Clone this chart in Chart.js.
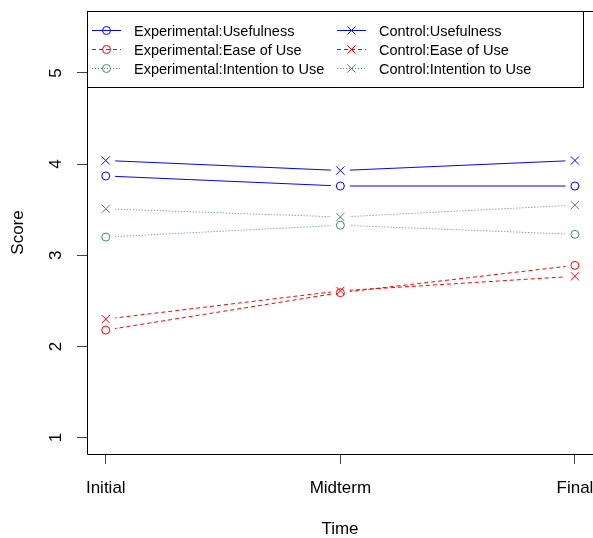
<!DOCTYPE html>
<html>
<head>
<meta charset="utf-8">
<script src="https://cdn.jsdelivr.net/npm/chart.js@4.4.1/dist/chart.umd.min.js"></script>
<style>
  html, body { margin: 0; padding: 0; overflow: hidden; background: #fff; }
  #grafico { display: block; width: 593px; height: 538px; }
</style>
</head>
<body>
<canvas id="grafico" width="593" height="538"></canvas>
<script>
// datos
const tiempos = ["Initial", "Midterm", "Final"];
const posiciones = [1, 2, 3];
const ticks_y = [1, 2, 3, 4, 5];

const exp_usefulness = [3.87, 3.76, 3.76];
const exp_ease = [2.18, 2.59, 2.89];
const exp_intention = [3.20, 3.33, 3.23];
const ctrl_usefulness = [4.04, 3.93, 4.04];
const ctrl_ease = [2.30, 2.61, 2.77];
const ctrl_intention = [3.51, 3.42, 3.55];

const FUENTE = "Arial, 'Liberation Sans', sans-serif";
const AZUL = "#0000FF", ROJO = "#FF0000", VERDE = "#458B74";

function serie(label, valores, color, dash, estilo) {
  return {
    label: label,
    data: valores.map((v, i) => ({ x: posiciones[i], y: v })),
    borderColor: color,
    borderWidth: 1,
    borderDash: dash,
    pointStyle: estilo,
    pointRadius: estilo === "circle" ? 4 : 5.8,
    pointBorderColor: color,
    pointBackgroundColor: "rgba(0,0,0,0)",
    pointBorderWidth: 1,
    fill: false,
    tension: 0,
  };
}

const datasets = [
  serie("Experimental:Usefulness", exp_usefulness, AZUL, [], "circle"),
  serie("Experimental:Ease of Use", exp_ease, ROJO, [4, 3], "circle"),
  serie("Experimental:Intention to Use", exp_intention, VERDE, [1, 2], "circle"),
  serie("Control:Usefulness", ctrl_usefulness, AZUL, [], "crossRot"),
  serie("Control:Ease of Use", ctrl_ease, ROJO, [4, 3], "crossRot"),
  serie("Control:Intention to Use", ctrl_intention, VERDE, [1, 2], "crossRot"),
];

// huecos alrededor de los puntos (tipo "b" de R), marco, etiquetas y leyenda
const plugin_estilo_r = {
  id: "estiloR",
  afterDatasetsDraw: (chart) => {
    const ctx = chart.ctx;
    const area = chart.chartArea;
    ctx.save();
    ctx.setLineDash([]);
    ctx.fillStyle = "#ffffff";
    chart.data.datasets.forEach((ds, i) => {
      chart.getDatasetMeta(i).data.forEach((p) => {
        const pos = p.getProps(["x", "y"], true);
        ctx.beginPath();
        ctx.arc(pos.x, pos.y, 9.5, 0, Math.PI * 2);
        ctx.closePath();
        ctx.fill();
      });
    });
    chart.data.datasets.forEach((ds, i) => {
      chart.getDatasetMeta(i).data.forEach((p) => p.draw(ctx, area));
    });
    ctx.restore();
  },
  afterDraw: (chart) => {
    const ctx = chart.ctx;
    const area = chart.chartArea;
    const x = chart.scales.x;
    const y = chart.scales.y;
    ctx.save();
    // marco (el lado derecho queda fuera de la imagen)
    const l = Math.round(area.left) + 0.5;
    const t = Math.round(area.top) + 0.5;
    const b = Math.round(area.bottom) + 0.5;
    ctx.strokeStyle = "#000";
    ctx.lineWidth = 1;
    ctx.beginPath();
    ctx.moveTo(chart.width, t);
    ctx.lineTo(l, t);
    ctx.lineTo(l, b);
    ctx.lineTo(chart.width, b);
    ctx.stroke();

    // etiquetas de los ejes (las del eje y giradas como en R)
    ctx.fillStyle = "#000";
    ctx.font = "17px " + FUENTE;
    ctx.textAlign = "center";
    ctx.textBaseline = "middle";
    posiciones.forEach((v, i) => {
      ctx.fillText(tiempos[i], x.getPixelForValue(v), area.bottom + 34);
    });
    ticks_y.forEach((v) => {
      ctx.save();
      ctx.translate(56, y.getPixelForValue(v));
      ctx.rotate(-Math.PI / 2);
      ctx.fillText(String(v), 0, 0);
      ctx.restore();
    });

    // leyenda
    const x0 = area.left, y0 = area.top;
    const ancho = 496, alto = 76;
    ctx.fillStyle = "#fff";
    ctx.fillRect(x0, y0, ancho, alto);
    ctx.strokeStyle = "#000";
    ctx.strokeRect(Math.round(x0) + 0.5, Math.round(y0) + 0.5, ancho, alto);
    const columnas = [x0 + 5, x0 + 250];
    ctx.font = "14.5px " + FUENTE;
    ctx.textAlign = "left";
    chart.data.datasets.forEach((ds, i) => {
      const cx = columnas[Math.floor(i / 3)];
      const cy = y0 + 19 + (i % 3) * 19;
      ctx.save();
      ctx.strokeStyle = ds.borderColor;
      ctx.lineWidth = 1;
      ctx.setLineDash(ds.borderDash);
      ctx.beginPath();
      ctx.moveTo(cx, cy + 0.5);
      ctx.lineTo(cx + 29, cy + 0.5);
      ctx.stroke();
      ctx.restore();
      ctx.save();
      ctx.strokeStyle = ds.pointBorderColor;
      ctx.fillStyle = "rgba(0,0,0,0)";
      ctx.lineWidth = 1;
      Chart.helpers.drawPoint(ctx, {
        pointStyle: ds.pointStyle,
        radius: ds.pointRadius,
        rotation: 0,
        borderWidth: 1,
      }, cx + 14.5, cy + 0.5);
      ctx.restore();
      ctx.fillStyle = "#000";
      ctx.textBaseline = "middle";
      ctx.fillText(ds.label, cx + 42, cy + 2);
    });
    ctx.restore();
  },
};

const ctx = document.getElementById("grafico").getContext("2d");
const chart_puntajes = new Chart(ctx, {
  type: "line",
  data: { datasets: datasets },
  options: {
    responsive: false,
    maintainAspectRatio: false,
    animation: false,
    layout: {
      autoPadding: false,
      padding: { left: 0, top: 11, right: 0, bottom: 0 },
    },
    plugins: {
      legend: { display: false },
      tooltip: { enabled: false },
    },
    scales: {
      x: {
        type: "linear",
        min: 0.92,
        max: 3.077,
        afterBuildTicks: (scale) => {
          scale.ticks = posiciones.map((v) => ({ value: v }));
        },
        afterFit: (scale) => {
          scale.height = 84;
        },
        grid: {
          drawOnChartArea: false,
          drawTicks: true,
          tickLength: 10,
          color: "#444",
        },
        border: { display: false },
        ticks: {
          display: false,
        },
        title: {
          display: true,
          text: "Time",
          color: "#000",
          font: { family: FUENTE, size: 17 },
          padding: { top: 0, bottom: -2 },
        },
      },
      y: {
        type: "linear",
        min: 0.82,
        max: 5.68,
        afterBuildTicks: (scale) => {
          scale.ticks = ticks_y.map((v) => ({ value: v }));
        },
        afterFit: (scale) => {
          scale.width = 87;
        },
        grid: {
          drawOnChartArea: false,
          drawTicks: true,
          tickLength: 10,
          color: "#444",
        },
        border: { display: false },
        ticks: {
          display: false,
        },
        title: {
          display: true,
          text: "Score",
          color: "#000",
          font: { family: FUENTE, size: 17 },
          padding: { top: 8, bottom: 0 },
        },
      },
    },
  },
  plugins: [plugin_estilo_r],
});
</script>
</body>
</html>
